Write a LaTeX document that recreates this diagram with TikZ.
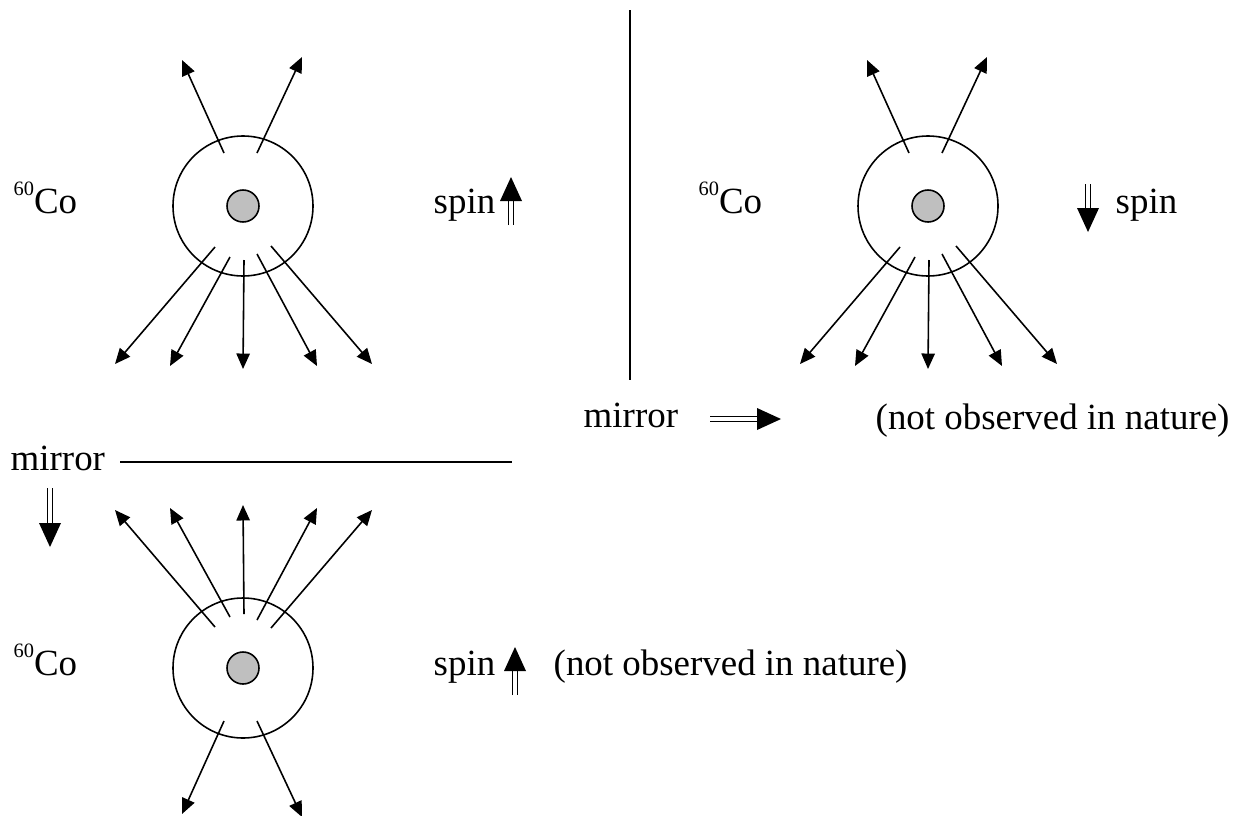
\documentclass[tikz,border=0pt]{standalone}
\usepackage{fontspec}
\setmainfont{Liberation Serif}
\usetikzlibrary{arrows.meta,calc}

\newcommand{\cobalt}{\raisebox{5pt}{\fontsize{5.8}{6}\selectfont 60}Co}

\tikzset{
  txt/.style={anchor=base west, inner sep=0pt, font=\fontsize{10.5}{12}\selectfont},
  ray/.style={line width=0.45pt, -{Triangle[length=4.4pt,width=3.8pt]}},
  atom/.style={circle, draw, line width=0.45pt, minimum size=140*0.01cm, inner sep=0pt},
  core/.style={circle, draw, fill=gray!50, line width=0.45pt, minimum size=32*0.01cm, inner sep=0pt},
  pics/dblarrow/.style={code={
    \draw[line width=0.4pt, double distance=1.1pt] (0,0) -- (0,-#1);
    \fill (-11,-#1) -- (0,{-#1-24}) -- (11,-#1) -- cycle;
  }}
}

\begin{document}
\begin{tikzpicture}[x=0.01cm, y=-0.01cm]
  \useasboundingbox (0,0) rectangle (1240,815);

  % the three nuclei
  \node[atom] (a1) at (243,206) {};
  \node[core] (c1) at (a1) {};
  \node[atom] (a2) at (928,206) {};
  \node[core] (c2) at (a2) {};
  \node[atom] (a3) at (243,668) {};
  \node[core] (c3) at (a3) {};

  % electrons: few up, many down (a1, a2); flipped for a3
  \foreach \a in {a1,a2} {
    \foreach \tx/\ty/\hx/\hy in {-19/-53/-61/-146, 14/-53/59/-149,
        -28/41/-128/158, -13/51/-73/160, 1/54/0/163, 14/48/74/160, 28/40/129/158}
      \draw[ray] ($(\a)+(\tx,\ty)$) -- ($(\a)+(\hx,\hy)$);
  }
  \foreach \tx/\ty/\hx/\hy in {-19/-53/-61/-146, 14/-53/59/-149,
      -28/41/-128/158, -13/51/-73/160, 1/54/0/163, 14/48/74/160, 28/40/129/158}
    \draw[ray] ($(a3)+(\tx,-\ty)$) -- ($(a3)+(\hx,-\hy)$);

  % labels
  \node[txt] (co1) at (13,213) {\cobalt};
  \node[txt] (spin1) at (433,213) {spin};
  \pic at (511,225) {dblarrow=24};

  \node[txt] (co2) at (698,213) {\cobalt};
  \pic[rotate=180] at (1088,184) {dblarrow=24};
  \node[txt] (spin2) at (1115,213) {spin};

  \node[txt] (co3) at (13,675) {\cobalt};
  \node[txt] (spin3) at (433,675) {spin};
  \pic at (515,695) {dblarrow=24};
  \node[txt] (note3) at (553,675) {(not observed in nature)};

  % mirrors
  \coordinate (m1) at (630,10);
  \coordinate (m2) at (630,380);
  \draw[line width=0.45pt] (m1) -- (m2);
  \node[txt] (mirror1) at (583,427) {mirror};
  \pic[rotate=-90] at (710,419) {dblarrow=47};
  \node[txt] (note1) at (875,429) {(not observed in nature)};

  \node[txt] (mirror2) at (10,470) {mirror};
  \coordinate (m3) at (120,462);
  \coordinate (m4) at (512,462);
  \draw[line width=0.45pt] (m3) -- (m4);
  \pic[rotate=180] at (50,488) {dblarrow=35};
\end{tikzpicture}
\end{document}
